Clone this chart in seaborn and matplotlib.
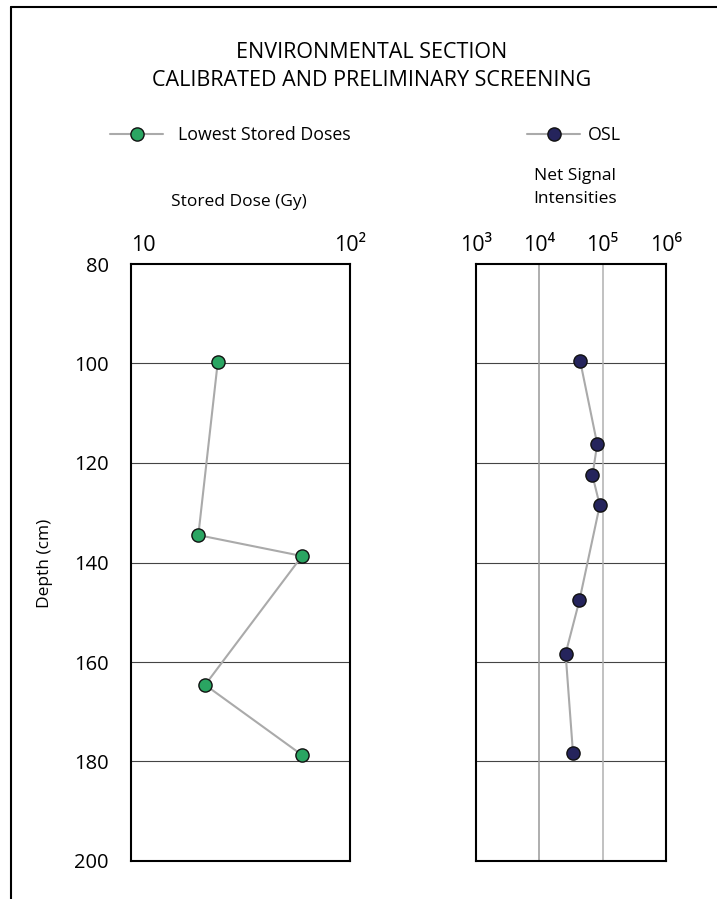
import matplotlib
matplotlib.use("Agg")
import matplotlib.pyplot as plt
from matplotlib.lines import Line2D
import seaborn as sns
import pandas as pd

# Lowest stored doses (Gy) by depth (cm)
dose_depth = [99.7, 134.5, 138.7, 164.6, 178.7]
dose_gy = [24.9, 20.3, 60.4, 21.8, 60.4]

# OSL net signal intensities by depth (cm)
osl_depth = [99.4, 116.2, 122.5, 128.5, 147.6, 158.3, 178.3]
osl_signal = [4.4e4, 8.2e4, 6.9e4, 9.0e4, 4.3e4, 2.6e4, 3.4e4]

depth_ticks = [80, 100, 120, 140, 160, 180, 200]
dose_ticks = [10, 100]
dose_ticklabels = ["10", "10²"]
osl_ticks = [1e3, 1e4, 1e5, 1e6]
osl_ticklabels = ["10³", "10⁴", "10⁵", "10⁶"]

title_lines = ["ENVIRONMENTAL SECTION", "CALIBRATED AND PRELIMINARY SCREENING"]

sns.set_theme(style="white")
FONT = ["Open Sans", "DejaVu Sans"]
plt.rcParams["font.family"] = FONT
plt.rcParams["text.color"] = "black"
plt.rcParams["xtick.color"] = "black"
plt.rcParams["ytick.color"] = "black"

GREEN = "#2aa562"
NAVY = "#25245c"
LINE = "#aaaaaa"

W, H = 717, 899
fig = plt.figure(figsize=(W / 100, H / 100), dpi=100)
fig.patch.set_facecolor("white")


def fx(px):
    return px / W


def fy(py):
    return 1 - py / H


dose_df = pd.DataFrame({"depth": dose_depth, "dose": dose_gy})
osl_df = pd.DataFrame({"depth": osl_depth, "signal": osl_signal})

ax1 = fig.add_axes([fx(131), fy(861), fx(350) - fx(131), fy(264) - fy(861)])
ax2 = fig.add_axes([fx(476), fy(861), fx(666) - fx(476), fy(264) - fy(861)])

marker_kw = dict(marker="o", markersize=9.5, markeredgecolor="#111111",
                 markeredgewidth=1.0, linewidth=1.5, color=LINE)

sns.lineplot(data=dose_df, x="dose", y="depth", sort=False, estimator=None,
             ax=ax1, markerfacecolor=GREEN, zorder=5, **marker_kw)
sns.lineplot(data=osl_df, x="signal", y="depth", sort=False, estimator=None,
             ax=ax2, markerfacecolor=NAVY, zorder=5, **marker_kw)

for ax in (ax1, ax2):
    ax.set_xscale("log")
    ax.set_ylim(200, 80)
    ax.set_xlabel("")
    ax.set_ylabel("")
    for s in ax.spines.values():
        s.set_color("black")
        s.set_linewidth(1.5)
        s.set_zorder(6)
    ax.xaxis.tick_top()
    ax.tick_params(axis="both", length=0, colors="black")
    ax.set_yticks(depth_ticks)
    ax.minorticks_off()
    for d in depth_ticks[1:-1]:
        ax.axhline(d, color="#444444", lw=0.8, zorder=1)

XT = 15.5
ax1.set_xlim(10, 100)
ax1.set_xticks(dose_ticks)
ax1.set_xticklabels(dose_ticklabels, fontsize=XT, family=FONT)
ax1.get_xticklabels()[0].set_horizontalalignment("left")
ax1.set_yticklabels([str(d) for d in depth_ticks], fontsize=14.5, family=FONT)
ax1.tick_params(axis="x", pad=6)
ax1.tick_params(axis="y", pad=16)
ax1.minorticks_off()

ax2.set_xlim(1e3, 1e6)
ax2.set_xticks(osl_ticks)
ax2.set_xticklabels(osl_ticklabels, fontsize=XT, family=FONT)
ax2.set_yticklabels([])
ax2.tick_params(axis="x", pad=6)
ax2.minorticks_off()
ax2.axvline(1e4, color="#999999", lw=1.1, zorder=1)
ax2.axvline(1e5, color="#b0b0b0", lw=1.1, zorder=1)

# Titles and captions
fig.text(fx(372), fy(52), title_lines[0], ha="center", va="center", fontsize=15.5)
fig.text(fx(372), fy(80), title_lines[1], ha="center", va="center", fontsize=15.5)
fig.text(fx(239), fy(202), "Stored Dose (Gy)", ha="center", va="center", fontsize=12.5)
fig.text(fx(575), fy(176), "Net Signal", ha="center", va="center", fontsize=12.5)
fig.text(fx(575), fy(199), "Intensities", ha="center", va="center", fontsize=12.5)
fig.text(fx(45), fy(563), "Depth (cm)", ha="center", va="center", rotation=90, fontsize=12.5)

# Legend entries
def legend_entry(x0, x1, y, face, label, tx):
    fig.add_artist(Line2D([fx(x0), fx(x1)], [fy(y), fy(y)], color=LINE, lw=1.5))
    fig.add_artist(Line2D([fx((x0 + x1) / 2)], [fy(y)], marker="o", markersize=9.5,
                          markerfacecolor=face, markeredgecolor="#111111",
                          markeredgewidth=1.0, linestyle="none"))
    fig.text(fx(tx), fy(y + 1), label, ha="left", va="center", fontsize=12.8)


legend_entry(110, 163, 134, GREEN, "Lowest Stored Doses", 178)
legend_entry(527, 580, 134, NAVY, "OSL", 588)

# Page frame (left and top edges)
fig.add_artist(Line2D([fx(11), fx(11)], [fy(7), 0], color="black", lw=1.5))
fig.add_artist(Line2D([fx(11), 1], [fy(7), fy(7)], color="black", lw=1.5))

fig.savefig("out.png", dpi=100, facecolor="white")
